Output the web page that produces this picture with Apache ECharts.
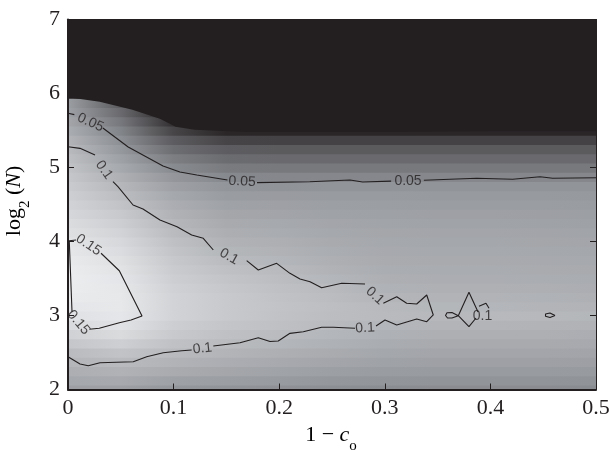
<!DOCTYPE html>
<html>
<head>
<meta charset="utf-8">
<script src="https://cdn.jsdelivr.net/npm/echarts/dist/echarts.min.js"></script>
<style>
  html, body { margin: 0; padding: 0; background: #fff; }
  #main { width: 609px; height: 450px; }
</style>
</head>
<body>
<div id="main"></div>
<script>
// axis ticks
var xTicks = [0, 0.1, 0.2, 0.3, 0.4, 0.5];
var yTicks = [2, 3, 4, 5, 6, 7];

// shaded field: one array per column (x), one entry per row (y)
var xCols = [0, 0.05, 0.1, 0.15, 0.2, 0.25, 0.3, 0.35, 0.4, 0.45, 0.5];
var yRows = [2, 2.125, 2.25, 2.375, 2.5, 2.625, 2.75, 2.875, 3, 3.125, 3.25, 3.375, 3.5, 3.625, 3.75, 3.875,
  4, 4.125, 4.25, 4.375, 4.5, 4.625, 4.75, 4.875, 5, 5.125, 5.25, 5.375, 5.5, 5.625, 5.75, 5.875, 6];

var col000 = [0.070, 0.080, 0.088, 0.096, 0.104, 0.117, 0.130, 0.141, 0.150, 0.156, 0.160, 0.163, 0.164, 0.163, 0.160, 0.157,
  0.153, 0.148, 0.143, 0.138, 0.133, 0.128, 0.123, 0.118, 0.113, 0.108, 0.102, 0.095, 0.086, 0.078, 0.072, 0.068, -0.08];
var col005 = [0.070, 0.082, 0.093, 0.102, 0.113, 0.128, 0.142, 0.151, 0.156, 0.158, 0.158, 0.157, 0.155, 0.152, 0.148, 0.144,
  0.139, 0.133, 0.127, 0.120, 0.113, 0.106, 0.099, 0.090, 0.081, 0.072, 0.061, 0.050, 0.038, 0.024, 0.008, -0.01, -0.08];
var col010 = [0.060, 0.072, 0.084, 0.094, 0.102, 0.111, 0.120, 0.127, 0.132, 0.133, 0.132, 0.130, 0.127, 0.123, 0.119, 0.114,
  0.109, 0.104, 0.099, 0.093, 0.087, 0.080, 0.071, 0.059, 0.045, 0.030, 0.012, -0.008, -0.035, -0.06, -0.08, -0.08, -0.08];
var col015 = [0.056, 0.068, 0.078, 0.087, 0.095, 0.103, 0.110, 0.116, 0.120, 0.121, 0.120, 0.118, 0.114, 0.109, 0.104, 0.098,
  0.093, 0.088, 0.083, 0.078, 0.073, 0.066, 0.057, 0.043, 0.027, 0.010, -0.008, -0.036, -0.07, -0.08, -0.08, -0.08, -0.08];
var col020 = [0.053, 0.064, 0.074, 0.082, 0.089, 0.097, 0.104, 0.109, 0.112, 0.113, 0.112, 0.109, 0.106, 0.102, 0.097, 0.093,
  0.089, 0.085, 0.081, 0.076, 0.071, 0.065, 0.055, 0.041, 0.025, 0.008, -0.010, -0.038, -0.07, -0.08, -0.08, -0.08, -0.08];
var col025 = [0.050, 0.060, 0.069, 0.077, 0.084, 0.091, 0.097, 0.102, 0.106, 0.107, 0.105, 0.102, 0.097, 0.093, 0.089, 0.086,
  0.083, 0.080, 0.077, 0.073, 0.069, 0.064, 0.056, 0.041, 0.025, 0.008, -0.010, -0.038, -0.07, -0.08, -0.08, -0.08, -0.08];
var col030 = [0.048, 0.057, 0.066, 0.073, 0.079, 0.085, 0.091, 0.097, 0.102, 0.101, 0.096, 0.092, 0.089, 0.086, 0.084, 0.082,
  0.080, 0.078, 0.075, 0.072, 0.068, 0.064, 0.056, 0.041, 0.025, 0.008, -0.010, -0.038, -0.07, -0.08, -0.08, -0.08, -0.08];
var col035 = [0.047, 0.056, 0.064, 0.071, 0.077, 0.083, 0.089, 0.095, 0.100, 0.098, 0.094, 0.090, 0.087, 0.085, 0.083, 0.081,
  0.079, 0.077, 0.074, 0.071, 0.067, 0.063, 0.056, 0.041, 0.025, 0.008, -0.010, -0.038, -0.07, -0.08, -0.08, -0.08, -0.08];
var col040 = [0.047, 0.056, 0.064, 0.071, 0.077, 0.083, 0.089, 0.095, 0.101, 0.097, 0.094, 0.090, 0.087, 0.085, 0.083, 0.081,
  0.079, 0.077, 0.074, 0.071, 0.067, 0.063, 0.056, 0.041, 0.025, 0.008, -0.010, -0.038, -0.07, -0.08, -0.08, -0.08, -0.08];
var col045 = [0.047, 0.056, 0.064, 0.071, 0.077, 0.083, 0.089, 0.094, 0.100, 0.095, 0.092, 0.089, 0.086, 0.084, 0.082, 0.080,
  0.078, 0.076, 0.073, 0.070, 0.067, 0.063, 0.056, 0.041, 0.025, 0.008, -0.010, -0.038, -0.07, -0.08, -0.08, -0.08, -0.08];
var col050 = [0.046, 0.055, 0.063, 0.070, 0.076, 0.082, 0.087, 0.093, 0.098, 0.094, 0.090, 0.087, 0.085, 0.083, 0.081, 0.079,
  0.077, 0.075, 0.072, 0.069, 0.066, 0.062, 0.056, 0.041, 0.025, 0.008, -0.010, -0.038, -0.07, -0.08, -0.08, -0.08, -0.08];
var field = [col000, col005, col010, col015, col020, col025, col030, col035, col040, col045, col050];

// lower edge of the black (empty) region
var blackEdge = [[0, 5.95], [0.03, 5.89], [0.061, 5.78], [0.087, 5.66], [0.102, 5.55], [0.12, 5.51],
  [0.17, 5.48], [0.3, 5.48], [0.4, 5.49], [0.5, 5.49]];

// contour lines, split where the labels sit
var contour005 = [
  [[0, 5.732], [0.006, 5.715]],
  [[0.033, 5.534], [0.057, 5.277], [0.090, 5.020], [0.106, 4.939], [0.122, 4.899], [0.151, 4.831]],
  [[0.179, 4.795], [0.229, 4.808], [0.267, 4.831], [0.279, 4.804], [0.306, 4.816]],
  [[0.337, 4.827], [0.368, 4.845], [0.387, 4.854], [0.421, 4.841], [0.447, 4.876], [0.459, 4.854], [0.5, 4.862]]
];
var contour010 = [
  [[0, 5.281], [0.0114, 5.259], [0.0256, 5.169]],
  [[0.0426, 4.808], [0.0473, 4.741], [0.0616, 4.493], [0.071, 4.439], [0.0871, 4.291], [0.1032, 4.2], [0.1171, 4.088], [0.1281, 4.043], [0.1376, 3.885]],
  [[0.1692, 3.741], [0.1802, 3.615], [0.1976, 3.705], [0.2102, 3.57], [0.2197, 3.493], [0.2292, 3.457], [0.2402, 3.376], [0.2592, 3.435], [0.2813, 3.426]],
  [[0.2986, 3.165], [0.3113, 3.254], [0.3207, 3.165], [0.3302, 3.155], [0.3397, 3.277], [0.3459, 3.007], [0.3397, 2.916], [0.3302, 2.953], [0.3113, 2.872], [0.3002, 2.939], [0.2917, 2.858]],
  [[0.2718, 2.827], [0.2512, 2.841], [0.2402, 2.841], [0.2228, 2.781], [0.2102, 2.759], [0.1991, 2.655], [0.1913, 2.648], [0.1802, 2.70], [0.1629, 2.632], [0.1376, 2.588]],
  [[0.1171, 2.534], [0.1077, 2.524], [0.0902, 2.497], [0.0745, 2.443], [0.0618, 2.376], [0.0303, 2.362], [0.0192, 2.322], [0.0114, 2.345], [0, 2.443]],
  [[0.3696, 2.997], [0.3636, 3.041], [0.3589, 3.038], [0.3575, 3.0], [0.3594, 2.966], [0.3636, 2.966], [0.3696, 2.997]],
  [[0.3864, 2.966], [0.3797, 2.849], [0.3696, 2.997], [0.3797, 3.314], [0.3883, 3.047]],
  [[0.3892, 3.126], [0.3958, 3.166], [0.3987, 3.099]],
  [[0.4612, 3.0], [0.4564, 3.035], [0.4522, 3.02], [0.4522, 2.99], [0.4564, 2.973], [0.4612, 3.0]]
];
var contour015 = [
  [[0.0038, 3.051], [0.0012, 4.011], [0.0076, 4.02]],
  [[0.0313, 3.841], [0.0486, 3.605], [0.0701, 2.993], [0.0597, 2.939], [0.0486, 2.903], [0.0296, 2.827], [0.0202, 2.814]]
];
// [x, y, text, angle]
var contourLabels = [
  [0.0213, 5.608, '0.05', -24],
  [0.1648, 4.811, '0.05', -3],
  [0.322, 4.818, '0.05', 0],
  [0.0341, 4.966, '0.1', -55],
  [0.1525, 3.795, '0.1', -29],
  [0.2907, 3.266, '0.1', -42],
  [0.2813, 2.83, '0.1', 3],
  [0.1274, 2.553, '0.1', 6],
  [0.3925, 2.993, '0.1', 0],
  [0.0194, 3.953, '0.15', -34],
  [0.0099, 2.905, '0.15', -50]
];

var INK = '#231f20';
var SERIF = 'Liberation Serif';
var SANS = 'Liberation Sans';

// gray colormap (value -> colour)
function shade(v) {
  var g = Math.max(35, Math.min(245, 101 + 840 * v));
  var lo, hi, t;
  if (g <= 143) { lo = [35, 31, 32]; hi = [140, 143, 148]; t = (g - 35) / 108; }
  else { lo = [140, 143, 148]; hi = [242, 243, 245]; t = (g - 143) / 102; }
  return 'rgb(' + lo.map(function (c, k) { return Math.round(c + (hi[k] - c) * t); }).join(',') + ')';
}

var chart = echarts.init(document.getElementById('main'));

var series = [];
series.push({
  type: 'custom',
  silent: true,
  animation: false,
  z: 1,
  data: yRows.map(function (y) { return [0.25, y]; }),
  renderItem: function (params, api) {
    var i = params.dataIndex;
    var yc = yRows[i];
    var yLo = i === 0 ? yc : (yRows[i - 1] + yc) / 2;
    var yHi = i === yRows.length - 1 ? 7 : (yc + yRows[i + 1]) / 2;
    var p0 = api.coord([0, yLo]);
    var p1 = api.coord([0.5, yHi]);
    var stops = xCols.map(function (x, j) {
      return { offset: x / 0.5, color: shade(field[j][i]) };
    });
    return {
      type: 'rect',
      shape: { x: p0[0], y: p1[1] - 0.5, width: p1[0] - p0[0], height: p0[1] - p1[1] + 1 },
      style: { fill: new echarts.graphic.LinearGradient(0, 0, 1, 0, stops) }
    };
  }
});

// black region above the edge
series.push({
  type: 'custom',
  silent: true,
  animation: false,
  z: 2,
  data: [[0, 7]],
  renderItem: function (params, api) {
    var pts = blackEdge.map(function (p) { return api.coord(p); });
    pts.push(api.coord([0.5, 7]));
    pts.push(api.coord([0, 7]));
    return { type: 'polygon', shape: { points: pts }, style: { fill: INK } };
  }
});

[contour005, contour010, contour015].forEach(function (segs) {
  segs.forEach(function (seg) {
    series.push({
      type: 'line',
      data: seg,
      symbol: 'none',
      silent: true,
      animation: false,
      z: 3,
      lineStyle: { color: INK, width: 1.1 }
    });
  });
});

series.push({
  type: 'scatter',
  symbolSize: 0,
  silent: true,
  animation: false,
  z: 4,
  data: contourLabels.map(function (l) {
    return { value: [l[0], l[1]], name: l[2], label: { rotate: l[3] } };
  }),
  label: {
    show: true,
    position: 'inside',
    formatter: '{b}',
    fontSize: 14,
    fontFamily: SANS,
    color: INK
  }
});

function xAxisOf(pos, main) {
  return {
    type: 'value', min: 0, max: 0.5, interval: 0.1, position: pos, z: 10,
    axisLine: { show: true, onZero: false, lineStyle: { color: INK, width: main ? 2 : 1 } },
    axisTick: { show: true, inside: true, length: 6, lineStyle: { color: INK, width: 1 } },
    axisLabel: {
      show: main, color: INK, fontFamily: SERIF, fontSize: 22, margin: 8,
      showMinLabel: true, showMaxLabel: true,
      formatter: function (v) { return v === 0 ? '0' : v.toFixed(1); }
    },
    splitLine: { show: false }
  };
}
function yAxisOf(pos, main) {
  return {
    type: 'value', min: 2, max: 7, interval: 1, position: pos, z: 10,
    axisLine: { show: true, onZero: false, lineStyle: { color: INK, width: main ? 2 : 1 } },
    axisTick: { show: true, inside: true, length: 6, lineStyle: { color: INK, width: 1 } },
    axisLabel: {
      show: main, color: INK, fontFamily: SERIF, fontSize: 22, margin: 8,
      showMinLabel: true, showMaxLabel: true
    },
    splitLine: { show: false }
  };
}

var richName = {
  r: { fontSize: 22, fontFamily: SERIF, color: INK, lineHeight: 30, verticalAlign: 'top' },
  i: { fontSize: 22, fontFamily: SERIF, fontStyle: 'italic', color: INK, lineHeight: 30, verticalAlign: 'top' },
  s: { fontSize: 15, fontFamily: SERIF, color: INK, lineHeight: 15, verticalAlign: 'bottom' }
};

chart.setOption({
  backgroundColor: '#fff',
  animation: false,
  grid: { left: 68, right: 13, top: 19.5, bottom: 60.5, containLabel: false, outerBoundsMode: 'none' },
  xAxis: [xAxisOf('bottom', true), xAxisOf('top', false)],
  yAxis: [yAxisOf('left', true), yAxisOf('right', false)],
  series: series,
  graphic: [
    {
      type: 'text', x: 331, y: 439, z: 20,
      style: { text: '{r|1 − }{i|c}{s|o}', rich: richName, align: 'center', verticalAlign: 'middle' }
    },
    {
      type: 'text', x: 18, y: 201, rotation: Math.PI / 2, z: 20,
      style: { text: '{r|log}{s|2}{r| (}{i|N}{r|)}', rich: richName, align: 'center', verticalAlign: 'middle' }
    }
  ]
});
</script>
</body>
</html>
